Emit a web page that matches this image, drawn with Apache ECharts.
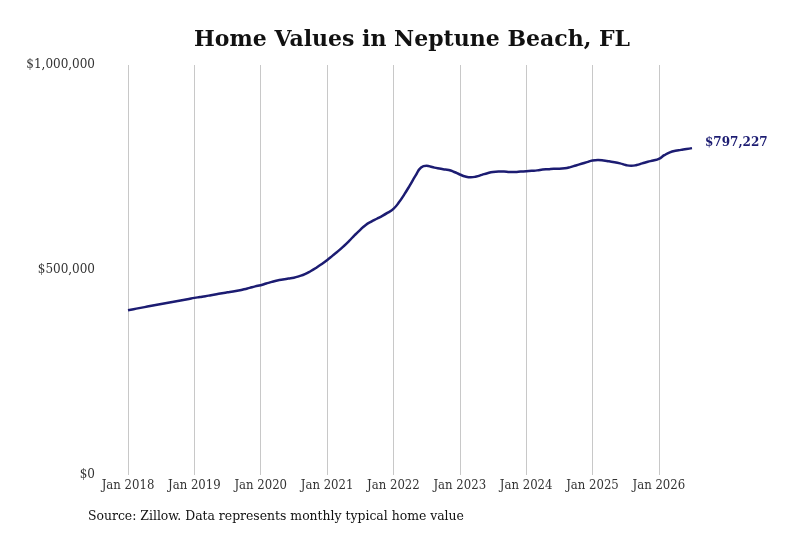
<!DOCTYPE html>
<html>
<head>
<meta charset="utf-8">
<script src="https://cdn.jsdelivr.net/npm/echarts@6/dist/echarts.min.js"></script>
<style>
html,body{margin:0;padding:0;background:#fff;}
#chart{width:800px;height:533px;}
</style>
</head>
<body>
<div id="chart"></div>
<script>
// Monthly typical home values (thousands of $), Jan 2018 - Jul 2026
const years = [2018, 2019, 2020, 2021, 2022, 2023, 2024, 2025, 2026];
const monthNames = ['Jan','Feb','Mar','Apr','May','Jun','Jul','Aug','Sep','Oct','Nov','Dec'];
const values2018 = [402, 404.5, 407, 409.5, 412, 414.5, 417, 419.5, 422, 424.5, 427, 429.5];
const values2019 = [432, 434, 436, 438.5, 441, 443.5, 445.5, 447.5, 450, 453, 456.5, 460];
const values2020 = [463, 467, 471, 474.5, 477, 479, 481, 485, 490, 497, 505, 514];
const values2021 = [524, 535, 546, 558, 571, 585, 598, 610, 618, 625, 632, 640];
const values2022 = [649, 665, 685, 707, 730, 750, 754, 751, 748, 746, 744, 739];
const values2023 = [733, 728, 726, 728, 732, 736, 739, 740, 740, 739, 739, 740];
const values2024 = [741, 742, 743, 745, 746, 747, 747, 748, 751, 755, 759, 763];
const values2025 = [767, 768, 767, 765, 763, 760, 756, 754, 756, 760, 764, 767];
const values2026 = [771, 780, 787, 791, 793, 795, 797.227];
const yTicks = [0, 500000, 1000000];
const lastLabel = '$797,227';

const allValues = [].concat(values2018, values2019, values2020, values2021, values2022,
  values2023, values2024, values2025, values2026).map(v => Math.round(v * 1000));
const categories = [];
years.forEach(y => monthNames.forEach(m => categories.push(m + ' ' + y)));
categories.length = allValues.length;

const serif = "'DejaVu Serif', 'Liberation Serif', serif";
const condensed = "'DejaVu Serif Condensed', 'DejaVu Serif', serif";
const isJan = (idx) => categories[idx].indexOf('Jan') === 0;

const chart = echarts.init(document.getElementById('chart'));
chart.setOption({
  backgroundColor: '#fff',
  animation: false,
  title: {
    text: 'Home Values in Neptune Beach, FL',
    left: 189,
    top: 24,
    textStyle: { fontFamily: serif, fontWeight: 'bold', fontSize: 22, color: '#111' }
  },
  grid: { left: 128, right: 108, top: 65, bottom: 58, containLabel: false },
  xAxis: {
    type: 'category',
    data: categories,
    boundaryGap: false,
    axisLine: { show: false },
    axisTick: { show: false },
    axisLabel: {
      interval: (idx) => isJan(idx),
      fontFamily: condensed, fontSize: 13, color: '#333', margin: 4
    },
    splitLine: {
      show: true,
      interval: (idx) => isJan(idx),
      lineStyle: { color: '#c8c8c8', width: 1 }
    }
  },
  yAxis: {
    type: 'value',
    min: yTicks[0],
    max: yTicks[yTicks.length - 1],
    interval: yTicks[1] - yTicks[0],
    axisLine: { show: false },
    axisTick: { show: false },
    splitLine: { show: false },
    axisLabel: {
      fontFamily: serif, fontSize: 12, color: '#333', margin: 33,
      formatter: (v) => '$' + v.toLocaleString('en-US')
    }
  },
  series: [{
    type: 'line',
    data: allValues,
    smooth: true,
    showSymbol: false,
    lineStyle: { color: '#1c1c72', width: 2.5 },
    endLabel: {
      show: true,
      formatter: () => lastLabel,
      fontFamily: serif, fontWeight: 'bold', fontSize: 12, color: '#1c1c72',
      distance: 13,
      offset: [0, -5]
    }
  }],
  graphic: [{
    type: 'text',
    left: 88,
    top: 509,
    style: {
      text: 'Source: Zillow. Data represents monthly typical home value',
      fontFamily: condensed, fontSize: 13.8, fill: '#111'
    }
  }]
});
</script>
</body>
</html>
